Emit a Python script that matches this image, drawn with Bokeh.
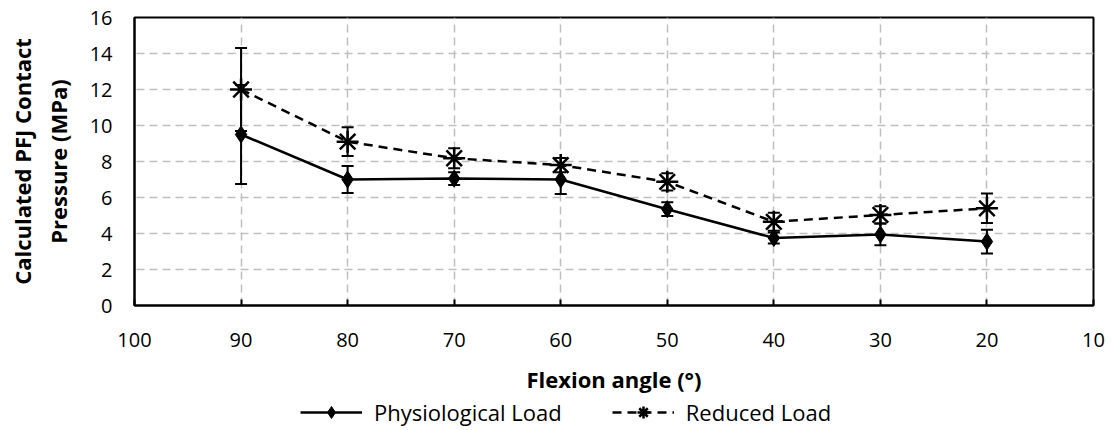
from bokeh.plotting import figure
from bokeh.layouts import column
from bokeh.models import (ColumnDataSource, Range1d, FixedTicker, Whisker, TeeHead,
                          Legend, LegendItem)
from bokeh.embed import file_html
from bokeh.resources import INLINE

# ---- data ----
angles = [90, 80, 70, 60, 50, 40, 30, 20]
physiological = [9.5, 7.0, 7.05, 7.0, 5.35, 3.75, 3.95, 3.55]
physiological_err = [2.75, 0.75, 0.35, 0.8, 0.38, 0.3, 0.6, 0.66]
reduced = [12.0, 9.1, 8.18, 7.8, 6.87, 4.65, 5.03, 5.4]
reduced_err = [2.3, 0.8, 0.55, 0.4, 0.48, 0.5, 0.48, 0.82]
x_ticks = [100, 90, 80, 70, 60, 50, 40, 30, 20, 10]
y_ticks = [0, 2, 4, 6, 8, 10, 12, 14, 16]
series_names = ["Physiological Load", "Reduced Load"]

FONT = "Open Sans"

src_p = ColumnDataSource(dict(
    x=angles, y=physiological,
    lo=[v - e for v, e in zip(physiological, physiological_err)],
    hi=[v + e for v, e in zip(physiological, physiological_err)]))
src_r = ColumnDataSource(dict(
    x=angles, y=reduced,
    lo=[v - e for v, e in zip(reduced, reduced_err)],
    hi=[v + e for v, e in zip(reduced, reduced_err)]))

p = figure(width=1110, height=396, output_backend="svg", toolbar_location=None,
           x_range=Range1d(x_ticks[0], x_ticks[-1]), y_range=Range1d(y_ticks[0], y_ticks[-1]),
           min_border_left=134, min_border_right=17, min_border_top=17, min_border_bottom=90)

p.outline_line_color = "black"
p.outline_line_width = 2
p.outline_line_alpha = 1

p.xaxis.ticker = FixedTicker(ticks=x_ticks)
p.yaxis.ticker = FixedTicker(ticks=y_ticks)
for ax in (p.xaxis, p.yaxis):
    ax.axis_line_color = "black"
    ax.axis_line_width = 2
    ax.major_tick_out = 0
    ax.minor_tick_line_color = None
    ax.major_label_text_font = FONT
    ax.major_label_text_font_size = "20px"
    ax.major_label_text_color = "black"
    ax.axis_label_text_font = FONT
    ax.axis_label_text_font_style = "bold"
    ax.axis_label_text_font_size = "22px"
    ax.axis_label_text_color = "black"
p.xaxis.major_tick_in = 6
p.xaxis.major_tick_line_width = 2
p.yaxis.major_tick_in = 0
p.yaxis.major_tick_line_color = None
p.xaxis.major_label_standoff = 27
p.yaxis.major_label_standoff = 22
p.xaxis.axis_label = "Flexion angle (°)"
p.xaxis.axis_label_standoff = 14
p.yaxis.axis_label = "Calculated PFJ Contact\nPressure (MPa)"
p.yaxis.axis_label_standoff = 14

for g in (p.xgrid, p.ygrid):
    g.grid_line_color = "#bfbfbf"
    g.grid_line_width = 1.5
    g.grid_line_dash = "8 5"
p.xgrid.ticker = FixedTicker(ticks=x_ticks)
p.ygrid.ticker = FixedTicker(ticks=y_ticks)

# error bars
for src in (src_p, src_r):
    w = Whisker(source=src, base="x", lower="lo", upper="hi", dimension="height",
                line_color="black", line_width=2,
                upper_head=TeeHead(size=12, line_color="black", line_width=2),
                lower_head=TeeHead(size=12, line_color="black", line_width=2))
    p.add_layout(w)

line_p = dict(line_color="black", line_width=2.5)
mark_p = dict(marker="diamond", size=17, fill_color="black", line_color="black")
line_r = dict(line_color="black", line_width=2.5, line_dash="9 6")
mark_r = dict(marker="asterisk", size=22, line_color="black", line_width=2.5)

p.line("x", "y", source=src_p, **line_p)
p.scatter("x", "y", source=src_p, **mark_p)
p.line("x", "y", source=src_r, **line_r)
p.scatter("x", "y", source=src_r, **mark_r)

# legend strip below the chart: same sources and styles, with a y range far
# from the data so that only the legend itself shows
lf = figure(width=1110, height=32, output_backend="svg", toolbar_location=None,
            x_axis_location=None, y_axis_location=None,
            x_range=Range1d(x_ticks[0], x_ticks[-1]), y_range=Range1d(1000, 1001),
            min_border_left=0, min_border_right=0, min_border_top=0, min_border_bottom=0)
lf.outline_line_color = None
lf.xgrid.visible = False
lf.ygrid.visible = False
l1 = lf.line("x", "y", source=src_p, **line_p)
m1 = lf.scatter("x", "y", source=src_p, **mark_p)
l2 = lf.line("x", "y", source=src_r, **line_r)
m2 = lf.scatter("x", "y", source=src_r, **mark_r)

legend = Legend(items=[LegendItem(label=series_names[0], renderers=[l1, m1]),
                       LegendItem(label=series_names[1], renderers=[l2, m2])],
                orientation="horizontal", location=(166, 1),
                label_text_font=FONT, label_text_font_size="22px",
                label_text_color="black",
                glyph_width=62, glyph_height=30, label_standoff=12, spacing=50,
                border_line_color=None, background_fill_alpha=0,
                padding=0, margin=0)
lf.add_layout(legend)

layout = column(p, lf, spacing=0)
open("out.html", "w").write(file_html(layout, INLINE))
